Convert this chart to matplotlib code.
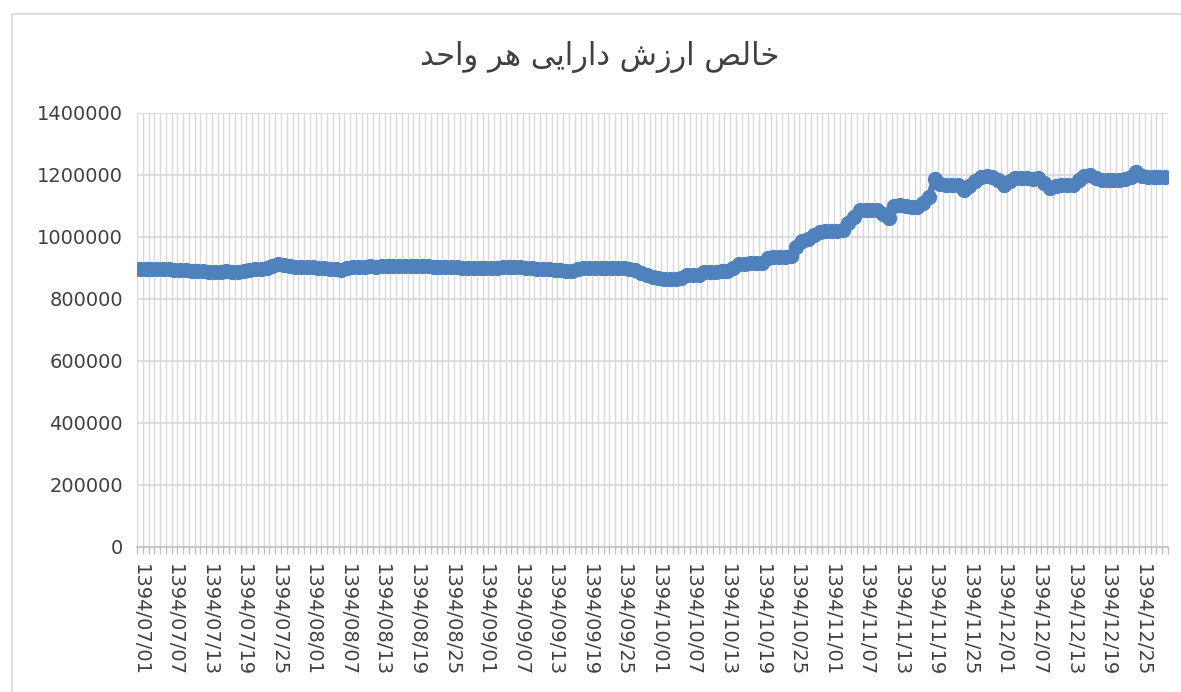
import numpy as np
import matplotlib.pyplot as plt
from matplotlib.patches import Rectangle

# Persian months shown on the axis and their lengths in 1394
months = [7, 8, 9, 10, 11, 12]
month_days = [30, 30, 30, 30, 30, 29]
dates = ['1394/%02d/%02d' % (m, d) for m, n in zip(months, month_days) for d in range(1, n + 1)]

# net asset value per unit, one per day
nav = [
    898000, 898000, 897000, 898000, 897000, 896000, 895000, 893000, 892000, 891000,
    890000, 889000, 888000, 887000, 888000, 889000, 888000, 887000, 889000, 893000,
    896000, 897000, 900000, 906000, 914000, 911000, 906000, 903000, 904000, 902000,
    # aban
    903000, 901000, 900000, 897000, 896000, 895000, 899000, 902000, 903000, 904000,
    905000, 904000, 906000, 905000, 906000, 906000, 905000, 906000, 906000, 906000,
    905000, 904000, 903000, 903000, 902000, 902000, 901000, 901000, 900000, 900000,
    # azar
    899000, 899000, 900000, 902000, 902000, 902000, 902000, 901000, 899000, 898000,
    897000, 897000, 895000, 893000, 890000, 889000, 896000, 899000, 899000, 900000,
    899000, 900000, 900000, 899000, 899000, 898000, 895000, 885000, 877000, 872000,
    # dey
    867000, 866000, 865000, 866000, 867000, 876000, 878000, 879000, 887000, 888000,
    888000, 889000, 890000, 900000, 912000, 914000, 915000, 916000, 917000, 933000,
    935000, 936000, 937000, 938000, 969000, 988000, 992000, 1005000, 1015000, 1018000,
    # bahman
    1019000, 1020000, 1021000, 1044000, 1065000, 1086000, 1087000, 1087000, 1086000, 1075000,
    1062000, 1100000, 1103000, 1099000, 1098000, 1098000, 1110000, 1128000, 1188000, 1170000,
    1168000, 1168000, 1167000, 1152000, 1165000, 1180000, 1195000, 1196000, 1195000, 1185000,
    # esfand
    1168000, 1182000, 1189000, 1190000, 1189000, 1188000, 1189000, 1175000, 1157000, 1166000,
    1168000, 1168000, 1169000, 1185000, 1198000, 1200000, 1190000, 1184000, 1183000, 1184000,
    1184000, 1186000, 1195000, 1210000, 1197000, 1195000, 1195000, 1195000, 1195000,
]

# title, pre-shaped (presentation forms, visual order) since matplotlib has no bidi
title_logical = ('\uFEA7\uFE8E\uFEDF\uFEBA \uFE8D\uFEAD\uFEAF\uFEB5 '
                 '\uFEA9\uFE8D\uFEAD\uFE8D\uFBFE\uFBFD \uFEEB\uFEAE \uFEED\uFE8D\uFEA3\uFEAA')
title = title_logical[::-1]

blue = '#4F81BD'
grid = '#D9D9D9'

fig = plt.figure(figsize=(11.81, 6.92), dpi=100)
fig.patches.append(Rectangle((12 / 1181, -0.01), 1.2, 1 - 14 / 692 + 0.01,
                             transform=fig.transFigure, fill=False,
                             edgecolor=grid, linewidth=1.2))
ax = fig.add_axes([137 / 1181, 1 - 547 / 692, (1168 - 137) / 1181, (547 - 113) / 692])

x = np.arange(len(nav))
ax.plot(x, nav, color=blue, linewidth=5, marker='o', markersize=10,
        markerfacecolor=blue, markeredgecolor=blue, solid_capstyle='round',
        solid_joinstyle='round')

ax.set_xlim(-0.5, len(nav) - 0.5)
ax.set_ylim(0, 1400000)
ax.set_yticks(np.arange(0, 1400001, 200000))
ax.set_yticklabels([str(v) for v in range(0, 1400001, 200000)], fontsize=14, color='#404040')

ax.set_xticks(x[::6])
ax.set_xticklabels(dates[::6], rotation=-90, fontsize=14, color='#404040', va='top', ha='center')
ax.set_xticks(np.arange(-0.5, len(nav), 1), minor=True)

for v in range(200000, 1400001, 200000):
    ax.axhline(v, color=grid, linewidth=1.2, zorder=0)
for b in np.arange(-0.5, len(nav), 1):
    ax.axvline(b, color=grid, linewidth=1.0, zorder=0)

for s in ['top', 'right', 'left']:
    ax.spines[s].set_visible(False)
ax.spines['bottom'].set_color('#BFBFBF')
ax.spines['bottom'].set_linewidth(1.2)
ax.tick_params(axis='y', length=0, pad=10)
ax.tick_params(axis='x', which='major', length=0, pad=12)
ax.tick_params(axis='x', which='minor', length=5, color='#BFBFBF', width=1.0)

fig.text(0.508, 1 - 57 / 692, title, ha='center', va='center', fontsize=22, color='#404040')

fig.savefig('out.png', dpi=100)
